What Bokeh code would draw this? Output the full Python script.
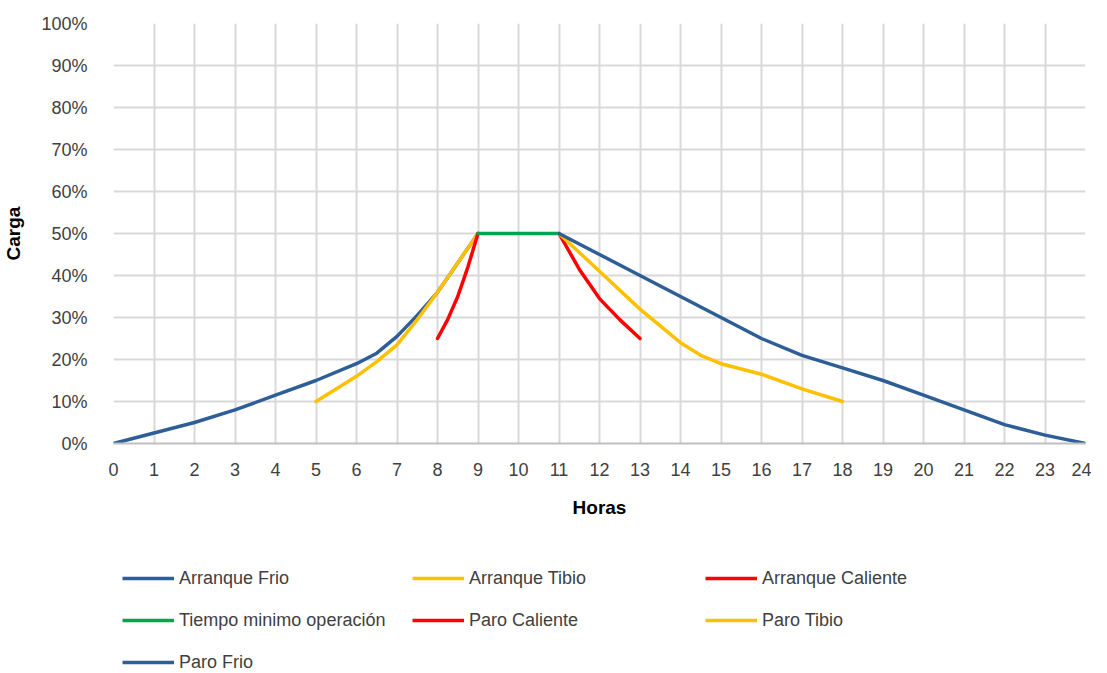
from bokeh.plotting import figure
from bokeh.models import Legend, LegendItem, FixedTicker, Range1d
from bokeh.layouts import column
from bokeh.embed import file_html
from bokeh.resources import INLINE

# Data (hours, load %)
arr_frio_x = [0, 1, 2, 3, 4, 5, 6, 6.5, 7, 7.5, 8, 8.5, 9]
arr_frio_y = [0, 2.5, 5, 8, 11.5, 15, 19, 21.5, 25.5, 30.5, 36, 43, 50]
arr_tibio_x = [5, 6, 6.5, 7, 7.5, 8, 8.5, 9]
arr_tibio_y = [10, 16, 19.5, 23.5, 29.5, 36, 43, 50]
arr_cal_x = [8, 8.25, 8.5, 8.75, 9]
arr_cal_y = [25, 29.5, 35, 42, 50]
tmin_x = [9, 11]
tmin_y = [50, 50]
paro_cal_x = [11, 11.5, 12, 12.5, 13]
paro_cal_y = [50, 41.5, 34.5, 29.5, 25]
paro_tibio_x = [11, 12, 13, 14, 14.5, 15, 16, 17, 18]
paro_tibio_y = [50, 41, 32, 24, 21, 19, 16.5, 13, 10]
paro_frio_x = [11, 12, 13, 14, 15, 16, 17, 18, 19, 20, 21, 22, 23, 24]
paro_frio_y = [50, 45, 40, 35, 30, 25, 21, 18, 15, 11.5, 8, 4.5, 2, 0]

series_labels = ["Arranque Frio", "Arranque Tibio", "Arranque Caliente",
                 "Tiempo minimo operación", "Paro Caliente", "Paro Tibio", "Paro Frio"]

x_ticks = list(range(0, 25))
y_ticks = list(range(0, 101, 10))
y_labels = {t: f"{t}%" for t in y_ticks}

FONT = "Liberation Sans"
BLUE = "#2E5E97"
YELLOW = "#FFC000"
RED = "#FF0000"
GREEN = "#00A550"
colors = [BLUE, YELLOW, RED, GREEN, RED, YELLOW, BLUE]

p = figure(width=1091, height=528, output_backend="svg", toolbar_location=None,
           min_border_left=105, min_border_right=6, min_border_top=23,
           min_border_bottom=85,
           x_range=Range1d(0, 24), y_range=Range1d(0, 100))
p.outline_line_color = None

series = [(arr_frio_x, arr_frio_y), (arr_tibio_x, arr_tibio_y), (arr_cal_x, arr_cal_y),
          (tmin_x, tmin_y), (paro_cal_x, paro_cal_y), (paro_tibio_x, paro_tibio_y),
          (paro_frio_x, paro_frio_y)]
for (xs, ys), c in zip(series, colors):
    p.line(xs, ys, line_color=c, line_width=3.5, line_join="round", line_cap="round")

p.xaxis.ticker = FixedTicker(ticks=x_ticks)
p.yaxis.ticker = FixedTicker(ticks=y_ticks)
p.yaxis.major_label_overrides = y_labels
for ax in (p.xaxis, p.yaxis):
    ax.major_tick_line_color = None
    ax.minor_tick_line_color = None
    ax.major_label_text_font = FONT
    ax.major_label_text_font_size = "18px"
    ax.major_label_text_color = "#404040"
    ax.axis_label_text_font = FONT
    ax.axis_label_text_font_style = "bold"
    ax.axis_label_text_font_size = "19px"
    ax.axis_label_text_color = "#000000"
p.yaxis.axis_line_color = None
p.xaxis.axis_line_color = "#BFBFBF"
p.xaxis.axis_line_width = 2
p.xaxis.major_label_standoff = 13
p.yaxis.major_label_standoff = 20
p.xaxis.axis_label = "Horas"
p.yaxis.axis_label = "Carga"
p.xaxis.axis_label_standoff = 18
p.yaxis.axis_label_standoff = 14
p.grid.grid_line_color = "#D9D9D9"
p.grid.grid_line_width = 2

# Legend figure (below the chart); the series are drawn outside its ranges so only the legend shows
lg = figure(width=1091, height=145, output_backend="svg", toolbar_location=None,
            min_border=0, x_range=Range1d(100, 101), y_range=Range1d(100, 101))
lg.axis.visible = False
lg.grid.visible = False
lg.outline_line_color = None
lrs = [lg.line(xs, ys, line_color=c, line_width=3.5) for (xs, ys), c in zip(series, colors)]

columns_idx = [[0, 3, 6], [1, 4], [2, 5]]
col_x = [9, 299, 592]
row_h, gap = 22, 20
for idx, cx in zip(columns_idx, col_x):
    n = len(idx)
    height = n * row_h + (n - 1) * gap
    top_from_bottom = 145 - 39
    leg = Legend(items=[LegendItem(label=series_labels[i], renderers=[lrs[i]]) for i in idx],
                 location=(cx, top_from_bottom - height),
                 label_text_font=FONT, label_text_font_size="18px", label_text_color="#404040",
                 glyph_width=52, glyph_height=row_h, label_standoff=5, spacing=gap,
                 label_height=row_h,
                 border_line_color=None, background_fill_alpha=0,
                 margin=0, padding=0)
    lg.add_layout(leg, "center")

layout = column(p, lg, spacing=0)
open("out.html", "w").write(file_html(layout, INLINE))
